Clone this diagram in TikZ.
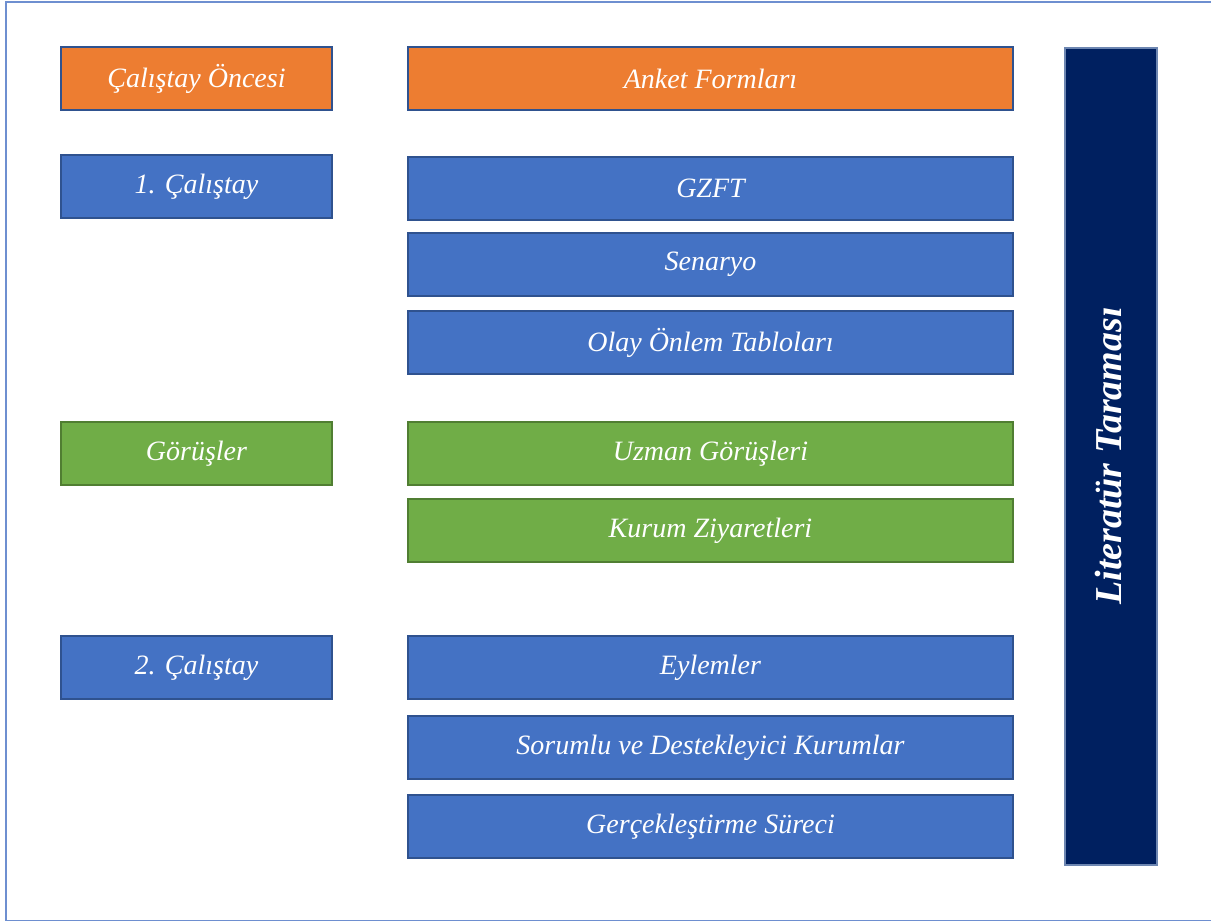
\documentclass[tikz,border=0pt]{standalone}
\usepackage{fontspec}
\setmainfont{Liberation Serif}
\definecolor{cOrange}{HTML}{ED7D31}
\definecolor{cBlue}{HTML}{4472C4}
\definecolor{cGreen}{HTML}{70AD47}
\definecolor{cNavy}{HTML}{002060}
\definecolor{bBlue}{HTML}{2F528F}
\definecolor{bGreen}{HTML}{507E32}
\definecolor{frameBlue}{HTML}{6E8FD0}
\begin{document}
\begin{tikzpicture}[x=1pt,y=-1pt,
  box/.style={draw=bBlue,line width=2pt,text=white,inner sep=0pt,font=\itshape\fontsize{28}{32}\selectfont},
  obox/.style={box,fill=cOrange},
  bbox/.style={box,fill=cBlue},
  gbox/.style={box,fill=cGreen,draw=bGreen},
  side/.style={minimum width=271pt,minimum height=63pt},
  mid/.style={minimum width=605pt,minimum height=63pt}]
\useasboundingbox (0,0) rectangle (1211,922);
\fill[white] (0,0) rectangle (1211,922);
\draw[frameBlue,line width=1.5pt] (1215,2) -- (6,2) -- (6,920.5) -- (1215,920.5);
% left column
\node[obox,side] (pre) at (196.5,78.5) {Çalıştay Öncesi};
\node[bbox,side] (c1) at (196.5,186.5) {1. Çalıştay};
\node[gbox,side] (gor) at (196.5,453.5) {Görüşler};
\node[bbox,side] (c2) at (196.5,667.5) {2. Çalıştay};
% middle column
\node[obox,mid] (anket) at (710.5,78.5) {Anket Formları};
\node[bbox,mid] (gzft) at (710.5,188) {GZFT};
\node[bbox,mid] (sen) at (710.5,264.5) {Senaryo};
\node[bbox,mid] (olay) at (710.5,342.5) {Olay Önlem Tabloları};
\node[gbox,mid] (uzman) at (710.5,453.5) {Uzman Görüşleri};
\node[gbox,mid] (kurum) at (710.5,530.5) {Kurum Ziyaretleri};
\node[bbox,mid] (eyl) at (710.5,667.5) {Eylemler};
\node[bbox,mid] (sor) at (710.5,747.5) {Sorumlu ve Destekleyici Kurumlar};
\node[bbox,mid] (ger) at (710.5,826.5) {Gerçekleştirme Süreci};
% right bar
\node[draw=bBlue!70!white,line width=2pt,fill=cNavy,minimum width=92pt,minimum height=817pt,inner sep=0pt] (lit) at (1110.5,456) {};
\node[text=white,rotate=90,font=\bfseries\itshape\fontsize{38}{44}\selectfont] (littext) at ([xshift=-2pt]lit.center) {Literatür Taraması};
\end{tikzpicture}
\end{document}
